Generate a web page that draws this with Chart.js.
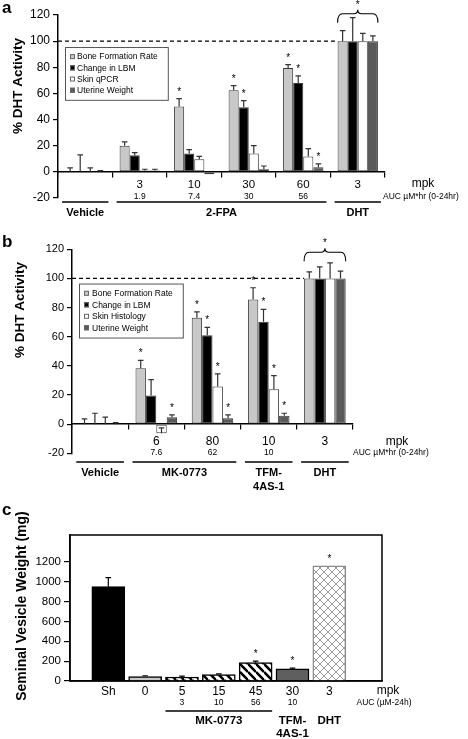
<!DOCTYPE html>
<html><head><meta charset="utf-8">
<script src="https://cdn.jsdelivr.net/npm/chart.js@4/dist/chart.umd.min.js"></script>
<style>
html,body{margin:0;padding:0;background:#fff;}
#wrap{position:relative;width:468px;height:739px;overflow:hidden;}
canvas{position:absolute;left:0;top:0;}
</style></head><body>
<div id="wrap">
<canvas id="ca" width="468" height="739"></canvas>
<canvas id="cb" width="468" height="739"></canvas>
<canvas id="cc" width="468" height="739"></canvas>
</div>
<script>
// ---------- Panel a data ----------
const aCategories = ['', '3', '10', '30', '60', '3'];
const aAuc = ['', '1.9', '7.4', '30', '56', ''];
const aSeries = ['Bone Formation Rate', 'Change in LBM', 'Skin qPCR', 'Uterine Weight'];
const aBone = [0, 20, 50, 62.5, 79.5, 100];
const aBoneErr = [3, 3, 6, 3.5, 2.5, 8];
const aLbm = [0, 12.7, 14, 49.5, 68, 100];
const aLbmErr = [13, 2, 3, 5, 5.5, 18];
const aSkin = [0, 1, 9.7, 14, 11.7, 100];
const aSkinErr = [3, 1, 2.2, 6, 6, 6];
const aUter = [0, 1, -1.8, 2, 3.6, 100];
const aUterErr = [1, 1, 0, 2.5, 2.5, 4];
const aBoneSig = [0, 0, 1, 1, 1, 0];
const aLbmSig = [0, 0, 0, 1, 1, 0];
const aSkinSig = [0, 0, 0, 0, 0, 0];
const aUterSig = [0, 0, 0, 0, 1, 0];
const aGroupNames = ['Vehicle', '2-FPA', 'DHT'];
const aGroupFrom = [0, 1, 5];
const aGroupTo = [0, 4, 5];

// ---------- Panel b data ----------
const bCategories = ['', '6', '80', '10', '3'];
const bAuc = ['', '7.6', '62', '10', ''];
const bSeries = ['Bone Formation Rate', 'Change in LBM', 'Skin Histology', 'Uterine Weight'];
const bBone = [0, 38.4, 73, 85.6, 100];
const bBoneErr = [3.6, 5.4, 4, 8, 4.5];
const bLbm = [0, 19.6, 61, 70.3, 100];
const bLbmErr = [7.5, 11, 5.4, 8.5, 8];
const bSkin = [0, -6.2, 25.8, 24, 100];
const bSkinErr = [4.8, 3.7, 8.7, 9.3, 10.7];
const bUter = [0, 4.8, 4.1, 5.7, 100];
const bUterErr = [1, 1.6, 2.3, 1.8, 5];
const bBoneSig = [0, 1, 1, 1, 0];
const bLbmSig = [0, 0, 1, 1, 0];
const bSkinSig = [0, 0, 1, 1, 0];
const bUterSig = [0, 1, 1, 1, 0];
const bGroupNames = ['Vehicle', 'MK-0773', 'TFM-\n4AS-1', 'DHT'];
const bGroupFrom = [0, 1, 3, 4];
const bGroupTo = [0, 2, 3, 4];

// ---------- Panel c data ----------
const cCategories = ['Sh', '0', '5', '15', '45', '30', '3'];
const cAuc = ['', '', '3', '10', '56', '10', ''];
const cValues = [950, 45, 40, 65, 185, 122, 1160];
const cErr = [90, 8, 10, 6, 16, 7, 0];
const cSig = [0, 0, 0, 0, 1, 1, 1];
const cYTicks = [0, 200, 400, 600, 800, 1000, 1200];
const cGroupNames = ['MK-0773', 'TFM-\n4AS-1', 'DHT'];
const cGroupFrom = [2, 5, 6];
const cGroupTo = [4, 5, 6];
const cGroupLine = [true, false, false];

// ---------- styling ----------
const FONT = "'Liberation Sans', Arial, Helvetica, sans-serif";
Chart.defaults.font.family = FONT;
Chart.defaults.color = '#000';
Chart.defaults.animation = false;
const SERIES_COLORS = ['#c8c8c8', '#000000', '#ffffff', '#5a5a5a'];

function makePattern(kind) {
  const s = 8;
  const c = document.createElement('canvas'); c.width = s; c.height = s;
  const g = c.getContext('2d');
  g.fillStyle = '#fff'; g.fillRect(0, 0, s, s);
  if (kind === 'stripe') {
    g.strokeStyle = '#000'; g.lineWidth = 2.6;
    g.beginPath();
    for (let k = -1; k <= 1; k++) { g.moveTo(0, k * s); g.lineTo(s, s + k * s); }
    g.stroke();
  } else {
    g.strokeStyle = '#9a9a9a'; g.lineWidth = 1;
    g.beginPath();
    for (let k = -1; k <= 1; k++) {
      g.moveTo(0, k * s); g.lineTo(s, s + k * s);
      g.moveTo(0, s + k * s); g.lineTo(s, k * s);
    }
    g.stroke();
  }
  return g.createPattern(c, 'repeat');
}

const decor = {
  id: 'decor',
  afterDatasetsDraw(chart, args, o) {
    const ctx = chart.ctx, ca = chart.chartArea, ys = chart.scales.y;
    ctx.save();
    if (o.dash) {
      const el = chart.getDatasetMeta(0).data[chart.data.labels.length - 1];
      const y = ys.getPixelForValue(100);
      ctx.strokeStyle = '#000'; ctx.lineWidth = 1.3; ctx.setLineDash([4, 3]);
      ctx.beginPath(); ctx.moveTo(ca.left, y); ctx.lineTo(el.x - el.width / 2, y); ctx.stroke();
      ctx.setLineDash([]);
    }
    chart.data.datasets.forEach((ds, di) => {
      const meta = chart.getDatasetMeta(di);
      meta.data.forEach((el, i) => {
        const raw = ds.data[i];
        const val = (raw !== null && typeof raw === 'object') ? raw.y : raw;
        const e = ds.err ? ds.err[i] : 0;
        const yTop = ys.getPixelForValue(val + e);
        if (e > 0) {
          ctx.strokeStyle = o.errColor; ctx.lineWidth = 1.2;
          ctx.beginPath();
          ctx.moveTo(el.x, el.y); ctx.lineTo(el.x, yTop);
          ctx.moveTo(el.x - 2.8, yTop); ctx.lineTo(el.x + 2.8, yTop);
          ctx.stroke();
        }
        if (ds.sig && ds.sig[i]) {
          ctx.fillStyle = '#000'; ctx.font = o.starSize + 'px ' + FONT;
          ctx.textAlign = 'center'; ctx.textBaseline = 'alphabetic';
          ctx.fillText('*', el.x, Math.min(yTop, el.y) - o.starGap);
        }
      });
    });
    if (o.brace) {
      const n = chart.data.labels.length - 1;
      const first = chart.getDatasetMeta(0).data[n];
      const last = chart.getDatasetMeta(chart.data.datasets.length - 1).data[n];
      const x0 = first.x - first.width / 2, x1 = last.x + last.width / 2, xc = (x0 + x1) / 2;
      const yH = ys.getPixelForValue(o.brace.y), yE = yH + o.brace.drop, yP = yH - 4;
      ctx.strokeStyle = '#000'; ctx.lineWidth = 1.1;
      ctx.beginPath();
      ctx.moveTo(x0, yE); ctx.quadraticCurveTo(x0, yH, x0 + 5, yH);
      ctx.lineTo(xc - 4, yH); ctx.quadraticCurveTo(xc, yH, xc, yP);
      ctx.quadraticCurveTo(xc, yH, xc + 4, yH);
      ctx.lineTo(x1 - 5, yH); ctx.quadraticCurveTo(x1, yH, x1, yE);
      ctx.stroke();
      ctx.fillStyle = '#000'; ctx.font = o.starSize + 'px ' + FONT; ctx.textAlign = 'center'; ctx.textBaseline = 'alphabetic';
      ctx.fillText('*', xc, yP - o.starGap + 2);
    }
    if (o.legend) {
      const L = o.legend;
      ctx.font = L.size + 'px ' + FONT;
      const w = Math.max(...chart.data.datasets.map(d => ctx.measureText(d.label).width));
      const x = ca.left + L.dx, y = ys.getPixelForValue(L.topValue);
      const bw = w + L.textDx + 10, bh = L.rowH * chart.data.datasets.length + 8;
      ctx.fillStyle = '#fff'; ctx.fillRect(x, y, bw, bh);
      ctx.strokeStyle = '#555'; ctx.lineWidth = 1; ctx.strokeRect(x + 0.5, y + 0.5, bw, bh);
      chart.data.datasets.forEach((d, k) => {
        const cy = y + 4 + L.rowH * (k + 0.5);
        ctx.fillStyle = d.backgroundColor; ctx.fillRect(x + 5, cy - 2.5, 5, 5);
        ctx.strokeStyle = '#666'; ctx.strokeRect(x + 5.5, cy - 2, 4, 4);
        ctx.fillStyle = '#000'; ctx.textAlign = 'left'; ctx.textBaseline = 'middle';
        ctx.fillText(d.label, x + L.textDx, cy + 0.5);
      });
    }
    ctx.restore();
  },
  afterDraw(chart, args, o) {
    const ctx = chart.ctx, ca = chart.chartArea, xs = chart.scales.x;
    ctx.save();
    if (o.frame) { ctx.strokeStyle = '#000'; ctx.lineWidth = 1.5; ctx.strokeRect(ca.left, ca.top, ca.width, ca.height); }
    ctx.fillStyle = '#000';
    ctx.font = 'bold 17px ' + FONT; ctx.textAlign = 'left'; ctx.textBaseline = 'middle';
    ctx.fillText(o.letter, o.letterPos[0], o.letterPos[1]);
    ctx.save(); ctx.translate(o.titlePos[0], o.titlePos[1]); ctx.rotate(-Math.PI / 2);
    ctx.font = 'bold ' + o.titleSize + 'px ' + FONT; ctx.textAlign = 'center'; ctx.textBaseline = 'middle';
    ctx.fillText(o.title, 0, 0); ctx.restore();
    ctx.font = o.mpkSize + 'px ' + FONT; ctx.textAlign = 'center'; ctx.textBaseline = 'middle';
    ctx.fillText('mpk', o.mpkPos[0], o.mpkPos[1]);
    ctx.font = o.aucSize + 'px ' + FONT; ctx.textAlign = o.aucAlign;
    ctx.fillText(o.aucTitle, o.aucPos[0], o.aucPos[1]);
    ctx.textAlign = 'center';
    o.auc.forEach((t, i) => { if (t) ctx.fillText(t, xs.getPixelForValue(i), o.aucPos[1]); });
    const nD = chart.data.datasets.length;
    o.groups.names.forEach((name, g) => {
      const a = chart.getDatasetMeta(0).data[o.groups.from[g]];
      const b = chart.getDatasetMeta(nD - 1).data[o.groups.to[g]];
      const l = a.x - a.width / 2 - o.groups.ext, r = b.x + b.width / 2 + o.groups.ext;
      if (!o.groups.line || o.groups.line[g]) {
        ctx.strokeStyle = '#000'; ctx.lineWidth = 1.5;
        ctx.beginPath(); ctx.moveTo(l, o.groups.lineY); ctx.lineTo(r, o.groups.lineY); ctx.stroke();
      }
      ctx.font = 'bold ' + o.groups.size + 'px ' + FONT; ctx.textAlign = 'center'; ctx.textBaseline = 'middle';
      name.split('\n').forEach((ln, k) => ctx.fillText(ln, (l + r) / 2, o.groups.textY + k * o.groups.lineH));
    });
    ctx.restore();
  }
};

function seriesDatasets(labels, values, errs, sigs) {
  return labels.map((lab, k) => ({
    label: lab, data: values[k], err: errs[k], sig: sigs[k],
    backgroundColor: SERIES_COLORS[k], borderColor: '#3a3a3a', borderWidth: 1, borderSkipped: false,
    categoryPercentage: 0.74, barPercentage: 1.0
  }));
}

function axisY(fontSize, step, yw, labelEvery) {
  return {
    min: -20, max: 120,
    ticks: { stepSize: step, font: { size: fontSize }, padding: 3, color: '#000',
             callback: v => (v % labelEvery === 0 ? String(v) : '') },
    grid: { drawOnChartArea: false, drawTicks: true, tickLength: 5, color: '#000', lineWidth: 1.2 },
    border: { color: '#000', width: 1.5 },
    afterFit: s => { s.width = yw; }
  };
}
function axisX(fontSize, pad) {
  return {
    position: { y: 0 },
    ticks: { font: { size: fontSize }, padding: pad, autoSkip: false, maxRotation: 0, color: '#000' },
    grid: { drawOnChartArea: false, drawTicks: true, tickLength: 5, color: '#000', lineWidth: 1.2, offset: true },
    border: { color: '#000', width: 1.5 }
  };
}

new Chart(document.getElementById('ca'), {
  type: 'bar',
  data: { labels: aCategories,
    datasets: seriesDatasets(aSeries, [aBone, aLbm, aSkin, aUter], [aBoneErr, aLbmErr, aSkinErr, aUterErr], [aBoneSig, aLbmSig, aSkinSig, aUterSig]) },
  options: {
    responsive: false, events: [],
    layout: { padding: { left: 8, top: 15, right: 83, bottom: 541 } },
    scales: { x: axisX(11.5, 1), y: axisY(12, 20, 50, 20) },
    plugins: { legend: { display: false }, tooltip: { enabled: false },
      decor: { dash: true, errColor: '#333', starSize: 10, starGap: 4,
        brace: { y: 121, drop: 9 },
        legend: { dx: 7, topValue: 95.5, size: 8.5, rowH: 11.2, textDx: 12 },
        letter: 'a', letterPos: [2, 8], title: '% DHT Activity', titlePos: [18, 86], titleSize: 13.5,
        mpkSize: 12, mpkPos: [423, 184], aucSize: 8.5, aucAlign: 'left', aucTitle: 'AUC µM*hr (0-24hr)', aucPos: [383, 197],
        auc: aAuc,
        groups: { names: aGroupNames, from: aGroupFrom, to: aGroupTo, ext: 3, lineY: 202, textY: 213, lineH: 13, size: 11 } } }
  },
  plugins: [decor]
});

new Chart(document.getElementById('cb'), {
  type: 'bar',
  data: { labels: bCategories,
    datasets: seriesDatasets(bSeries, [bBone, bLbm, bSkin, bUter], [bBoneErr, bLbmErr, bSkinErr, bUterErr], [bBoneSig, bLbmSig, bSkinSig, bUterSig]) },
  options: {
    responsive: false, events: [],
    layout: { padding: { left: 22, top: 249.3, right: 115, bottom: 285.7 } },
    scales: { x: axisX(12, 5), y: axisY(11, 10, 50, 20) },
    plugins: { legend: { display: false }, tooltip: { enabled: false },
      decor: { dash: true, errColor: '#333', starSize: 10, starGap: 4,
        brace: { y: 118, drop: 9 },
        legend: { dx: 7, topValue: 96.5, size: 8.5, rowH: 11.5, textDx: 13 },
        letter: 'b', letterPos: [2, 242], title: '% DHT Activity', titlePos: [20, 310], titleSize: 13.5,
        mpkSize: 12, mpkPos: [397, 442], aucSize: 8.5, aucAlign: 'left', aucTitle: 'AUC µM*hr (0-24hr)', aucPos: [353, 453],
        auc: bAuc,
        groups: { names: bGroupNames, from: bGroupFrom, to: bGroupTo, ext: 3, lineY: 462, textY: 473, lineH: 14, size: 11 } } }
  },
  plugins: [decor]
});

const cSolid = ['#000000', '#c8c8c8', null, null, null, '#5f5f5f', null];
const cKind = ['solid', 'solid', 'stripe', 'stripe', 'stripe', 'solid', 'cross'];
new Chart(document.getElementById('cc'), {
  type: 'bar',
  data: { labels: cCategories,
    datasets: [{ label: 'Seminal Vesicle Weight', data: cValues.map((v, i) => ({ x: i, y: v })), err: cErr, sig: cSig,
      backgroundColor: ctx => (cKind[ctx.dataIndex] === 'solid' ? cSolid[ctx.dataIndex] : makePattern(cKind[ctx.dataIndex])),
      borderColor: ctx => (cKind[ctx.dataIndex] === 'cross' ? '#8a8a8a' : '#000'), borderWidth: 1.5, borderSkipped: 'start',
      barThickness: 33 }] },
  options: {
    responsive: false, events: [],
    layout: { padding: { left: 20, top: 535, right: 86, bottom: 58 } },
    scales: {
      x: { type: 'linear', offset: false, position: { y: 0 }, min: -1.04, max: 7.43,
        afterBuildTicks: s => { s.ticks = cCategories.map((_, i) => ({ value: i })); },
        ticks: { callback: v => cCategories[v], font: { size: 12 }, padding: 3, autoSkip: false, maxRotation: 0, color: '#000' },
        grid: { drawOnChartArea: false, drawTicks: false },
        border: { color: '#000', width: 1.5 } },
      y: { min: 0, max: 1470,
        afterBuildTicks: s => { s.ticks = cYTicks.map(v => ({ value: v })); },
        ticks: { font: { size: 11.5 }, padding: 3, color: '#000', callback: v => String(v) },
        grid: { drawOnChartArea: false, drawTicks: true, tickLength: 6, color: '#000', lineWidth: 1.2 },
        border: { color: '#000', width: 1.5 },
        afterFit: s => { s.width = 50; } }
    },
    plugins: { legend: { display: false }, tooltip: { enabled: false },
      decor: { frame: true, errColor: '#000', starSize: 10, starGap: 4,
        letter: 'c', letterPos: [2, 510], title: 'Seminal Vesicle Weight (mg)', titlePos: [22, 606], titleSize: 14,
        mpkSize: 12, mpkPos: [388, 691], aucSize: 8.5, aucAlign: 'center', aucTitle: 'AUC (µM-24h)', aucPos: [384, 703],
        auc: cAuc,
        groups: { names: cGroupNames, from: cGroupFrom, to: cGroupTo, line: cGroupLine, ext: 0, lineY: 711, textY: 721, lineH: 13, size: 11.5 } } }
  },
  plugins: [decor]
});
</script>
</body></html>
